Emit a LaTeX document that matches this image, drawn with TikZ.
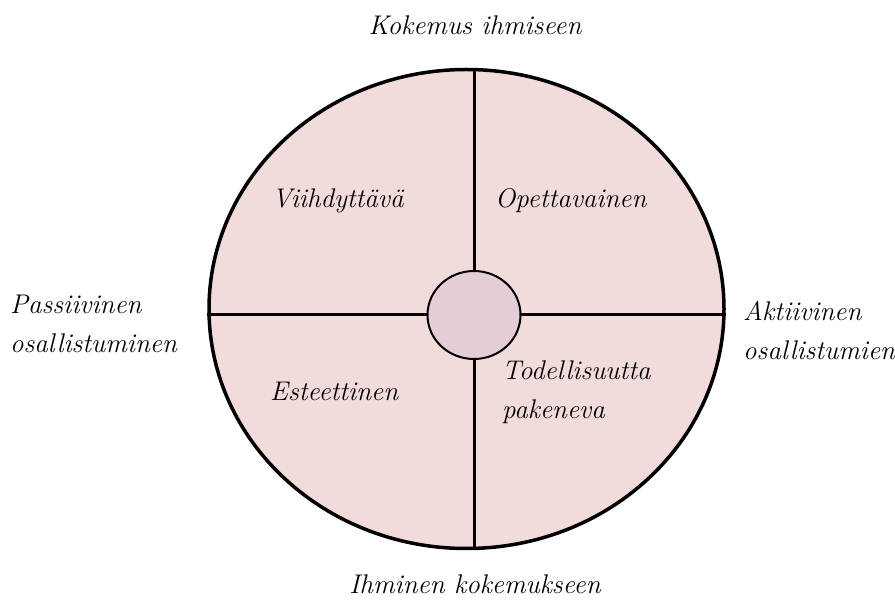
\documentclass[tikz,border=0pt]{standalone}
\usepackage{fontspec}
\usetikzlibrary{shapes.geometric}
\definecolor{outerc}{HTML}{F2DCDB}
\definecolor{innerc}{HTML}{E5CDD7}
\begin{document}
\begin{tikzpicture}[x=1pt,y=-1pt,
  lab/.style={font=\fontsize{27}{39}\selectfont\itshape, inner sep=0pt},
  divider/.style={line width=3pt, line cap=butt}]
\useasboundingbox (0,0) rectangle (895,601);
\node[draw, ellipse, fill=outerc, line width=3.5pt, minimum width=515pt, minimum height=479pt, inner sep=0pt] (outer) at (466.5,309) {};
\coordinate (c) at (474,315);
\draw[divider] (outer.north -| c) -- (outer.south -| c);
\draw[divider] (outer.west |- c) -- (outer.east |- c);
\node[draw, ellipse, fill=innerc, line width=2pt, minimum width=93pt, minimum height=88pt, inner sep=0pt] (hub) at (c) {};
\node[lab, anchor=base] (top) at (475,35) {Kokemus ihmiseen};
\node[lab, anchor=base] (bottom) at (475,594) {Ihminen kokemukseen};
\node[lab, anchor=base west] (q1) at (272,208) {Viihdyttävä};
\node[lab, anchor=base west] (q2) at (495,208) {Opettavainen};
\node[lab, anchor=base west] (q3) at (270,401) {Esteettinen};
\node[lab, anchor=west, align=left] (q4) at (502,392) {Todellisuutta\\pakeneva};
\node[lab, anchor=west, align=left] (left) at (10,324) {Passiivinen\\osallistuminen};
\node[lab, anchor=west, align=left] (right) at (743,330) {Aktiivinen\\osallistumien};
\end{tikzpicture}
\end{document}
